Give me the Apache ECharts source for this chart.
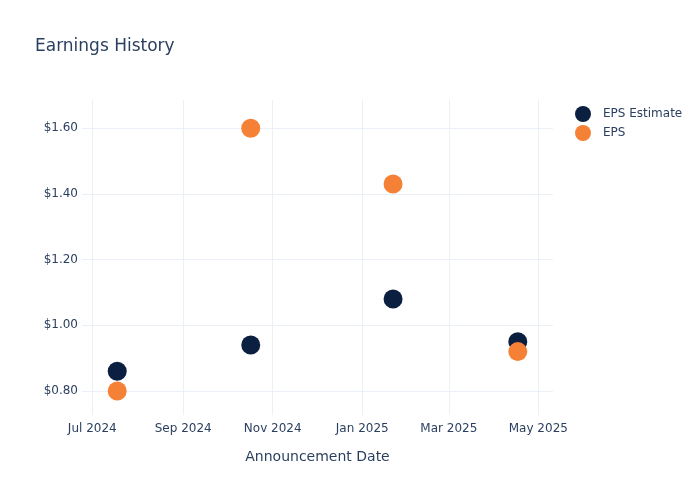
<!DOCTYPE html>
<html>
<head>
<meta charset="utf-8">
<script src="https://cdn.jsdelivr.net/npm/echarts@6/dist/echarts.min.js"></script>
<style>
html,body{margin:0;padding:0;background:#fff;}
#chart{width:700px;height:500px;}
</style>
</head>
<body>
<div id="chart"></div>
<script>
// announcement dates and eps values
var dates = ['2024-07-18', '2024-10-17', '2025-01-22', '2025-04-17'];
var epsEstimate = [0.86, 0.94, 1.08, 0.95];
var eps = [0.80, 1.60, 1.43, 0.92];
var monthNames = ['Jan','Feb','Mar','Apr','May','Jun','Jul','Aug','Sep','Oct','Nov','Dec'];

var txt = '#2a3f5f';
var gridCol = '#ebf0f8';

function pairs(vals){
	var out = [];
	for(var i=0;i<dates.length;i++){
		out.push([dates[i], vals[i]]);
	}
	return out;
}

var myChart = echarts.init(document.getElementById('chart'));
var option = {
	backgroundColor: '#fff',
	textStyle: { fontFamily: '"DejaVu Sans", sans-serif' },
	title: {
		text: 'Earnings History',
		left: 30,
		top: 33,
		textStyle: { color: txt, fontSize: 17, fontWeight: 'normal' }
	},
	legend: {
		orient: 'vertical',
		left: 570,
		top: 101,
		itemGap: 3,
		itemWidth: 16,
		itemHeight: 16,
		icon: 'circle',
		textStyle: { color: txt, fontSize: 12, padding: [0, 0, 0, 7] },
		data: ['EPS Estimate', 'EPS']
	},
	grid: {
		left: 82,
		right: 147,
		top: 100,
		bottom: 85
	},
	xAxis: {
		type: 'time',
		min: '2024-06-24',
		max: '2025-05-11',
		splitNumber: 5,
		name: 'Announcement Date',
		nameLocation: 'middle',
		nameGap: 35,
		nameTextStyle: { color: txt, fontSize: 14 },
		axisLine: { show: false },
		axisTick: { show: false },
		axisLabel: {
			color: txt,
			fontSize: 12,
			margin: 8,
			showMinLabel: false,
			showMaxLabel: false,
			formatter: function(v){
				var d = new Date(v);
				return monthNames[d.getMonth()] + ' ' + d.getFullYear();
			}
		},
		splitLine: { show: true, showMinLine: false, showMaxLine: false, lineStyle: { color: gridCol, width: 1 } }
	},
	yAxis: {
		type: 'value',
		min: 0.727,
		max: 1.686,
		splitNumber: 5,
		axisLine: { show: false },
		axisTick: { show: false },
		axisLabel: {
			color: txt,
			fontSize: 12,
			margin: 4,
			showMinLabel: false,
			showMaxLabel: false,
			formatter: function(v){ return '$' + v.toFixed(2); }
		},
		splitLine: { show: true, showMinLine: false, showMaxLine: false, lineStyle: { color: gridCol, width: 1 } }
	},
	series: [{
		name: 'EPS Estimate',
		type: 'scatter',
		symbolSize: 19,
		itemStyle: { color: '#0b1f40', opacity: 1 },
		data: pairs(epsEstimate)
	}, {
		name: 'EPS',
		type: 'scatter',
		symbolSize: 19,
		itemStyle: { color: '#f58137', opacity: 1 },
		data: pairs(eps)
	}]
};
myChart.setOption(option);
</script>
</body>
</html>
